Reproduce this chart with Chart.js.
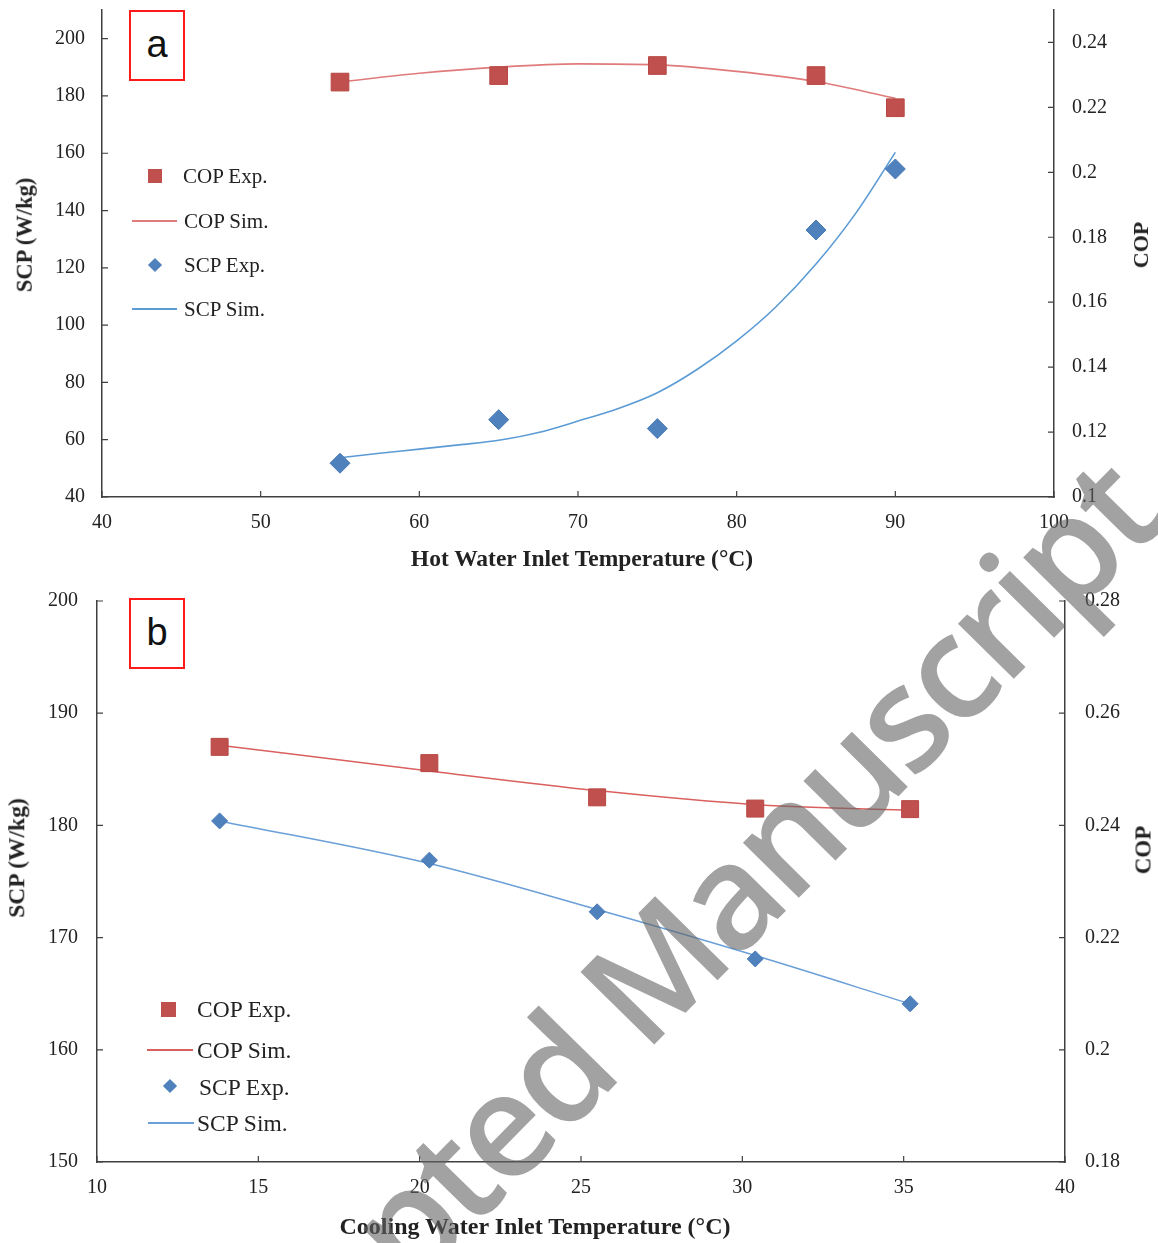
<!DOCTYPE html>
<html>
<head>
<meta charset="utf-8">
<title>SCP and COP versus inlet temperature</title>
<script src="https://cdn.jsdelivr.net/npm/chart.js@4.4.0/dist/chart.umd.min.js"></script>
<style>
  body { margin: 0; width: 1158px; height: 1243px; overflow: hidden; background: #fff; position: relative; font-family: "Liberation Serif", serif; color: #222; }
  canvas { position: absolute; left: 0; }
  #chartA { top: 0; }
  #chartB { top: 575px; }
  .tag { position: absolute; width: 52px; height: 67px; border: 2px solid #ff1a1a; font-family: "Liberation Sans", sans-serif; font-size: 38px; line-height: 64px; text-align: center; color: #111; background: #fff; }
  .leg { position: absolute; white-space: nowrap; line-height: 1; }
  .sq { position: absolute; background: #C0504D; }
  .dm { position: absolute; background: #4F81BD; transform: rotate(45deg); }
  .ln { position: absolute; height: 1.5px; }
  .title { position: absolute; font-weight: bold; white-space: nowrap; line-height: 1; }
  .vert { transform: translate(-50%, -50%) rotate(-90deg); }
  #wm { position: absolute; left: 198px; top: 1380px; font-family: "Open Sans", sans-serif; font-weight: 600; font-size: 145px; line-height: 1; letter-spacing: -5px; white-space: nowrap; color: rgba(100,100,100,0.6); transform-origin: 0 129px; transform: rotate(-45.5deg); pointer-events: none; }
</style>
</head>
<body>
<canvas id="chartA" width="1158" height="575"></canvas>
<canvas id="chartB" width="1158" height="668"></canvas>

<div class="tag" style="left:129px; top:10px;">a</div>
<div class="tag" style="left:129px; top:598px;">b</div>

<!-- legend a -->
<div class="sq" style="left:148px; top:169px; width:14px; height:14px;"></div>
<div class="leg" style="left:183px; top:166px; font-size:21px;">COP Exp.</div>
<div class="ln" style="left:132px; top:220px; width:45px; background:#E07B7B;"></div>
<div class="leg" style="left:184px; top:211px; font-size:21px;">COP Sim.</div>
<div class="dm" style="left:150px; top:260px; width:10px; height:10px;"></div>
<div class="leg" style="left:184px; top:255px; font-size:21px;">SCP Exp.</div>
<div class="ln" style="left:132px; top:308px; width:45px; background:#5B9BD5;"></div>
<div class="leg" style="left:184px; top:299px; font-size:21px;">SCP Sim.</div>

<!-- legend b -->
<div class="sq" style="left:161px; top:1002px; width:15px; height:15px;"></div>
<div class="leg" style="left:197px; top:998px; font-size:23.5px;">COP Exp.</div>
<div class="ln" style="left:147px; top:1049px; width:46px; background:#D9605E;"></div>
<div class="leg" style="left:197px; top:1039px; font-size:23.5px;">COP Sim.</div>
<div class="dm" style="left:165px; top:1081px; width:10px; height:10px;"></div>
<div class="leg" style="left:199px; top:1076px; font-size:23.5px;">SCP Exp.</div>
<div class="ln" style="left:148px; top:1122px; width:46px; background:#6A9FD8;"></div>
<div class="leg" style="left:197px; top:1112px; font-size:23.5px;">SCP Sim.</div>

<!-- axis titles -->
<div class="title vert" style="left:25px; top:235px; font-size:22.5px;">SCP (W/kg)</div>
<div class="title vert" style="left:1141px; top:245px; font-size:22px;">COP</div>
<div class="title" style="left:582px; top:559px; font-size:23.5px; transform:translate(-50%,-50%);">Hot Water Inlet Temperature (°C)</div>
<div class="title vert" style="left:17px; top:858px; font-size:23.5px;">SCP (W/kg)</div>
<div class="title vert" style="left:1143px; top:850px; font-size:23px;">COP</div>
<div class="title" style="left:535px; top:1226px; font-size:24px; transform:translate(-50%,-50%);">Cooling Water Inlet Temperature (°C)</div>

<div id="wm">Accepted Manuscript</div>

<script>
// (a) hot water inlet temperature
const hotTemp = [55, 65, 75, 85, 90];
const hotScpExp = [51.8, 67.0, 63.9, 133.2, 154.5];
const hotCopExp = [0.2278, 0.2298, 0.2329, 0.2298, 0.2199];
const hotScpSimTemp = [55, 57.5, 60, 62.5, 65, 67.5, 70, 72.5, 75, 77.5, 80, 82.5, 85, 87.5, 90];
const hotScpSim = [53.7, 55.3, 56.7, 58.2, 59.8, 62.5, 66.5, 70.8, 76.4, 84.5, 94.5, 106.5, 121.3, 139, 160.3];
const hotCopSimTemp = [55, 60, 65, 70, 75, 80, 85, 90];
const hotCopSim = [0.2278, 0.2305, 0.2324, 0.2334, 0.2331, 0.2311, 0.2280, 0.2228];

// (b) cooling water inlet temperature
const coolTemp = [13.8, 20.3, 25.5, 30.4, 35.2];
const coolScpExp = [180.4, 176.9, 172.3, 168.1, 164.1];
const coolCopExp = [0.2540, 0.2511, 0.2450, 0.2430, 0.2429];
const coolScpSim = [180.4, 176.6, 172.5, 168.4, 164.1];
const coolCopSim = [0.2543, 0.2497, 0.2462, 0.2437, 0.2427];

const pts = (xs, ys) => xs.map((x, i) => ({x: x, y: ys[i]}));
const tickFont = {family: 'Liberation Serif', size: 20, lineHeight: 1};
const axisLine = {color: '#404040', width: 1.5};

// short tick marks pointing into the plot
const innerTicks = {
  id: 'innerTicks',
  afterDatasetsDraw(chart) {
    const {ctx, chartArea: a, scales} = chart;
    ctx.save();
    ctx.strokeStyle = '#404040';
    ctx.lineWidth = 1.2;
    ctx.beginPath();
    scales.x.ticks.forEach(t => {
      const p = scales.x.getPixelForValue(t.value);
      ctx.moveTo(p, a.bottom); ctx.lineTo(p, a.bottom - 6);
    });
    scales.y.ticks.forEach(t => {
      const p = scales.y.getPixelForValue(t.value);
      ctx.moveTo(a.left, p); ctx.lineTo(a.left + 6, p);
    });
    scales.y1.ticks.forEach(t => {
      const p = scales.y1.getPixelForValue(t.value);
      ctx.moveTo(a.right, p); ctx.lineTo(a.right - 6, p);
    });
    ctx.stroke();
    ctx.restore();
  }
};

function makeChart(id, sets, sx, sy, sy1, size) {
  // pin axis sizes so the plot area lands where the figure has it
  const fitV = w => s => { s.width = w; s.paddingTop = 0; s.paddingBottom = 0; };
  return new Chart(document.getElementById(id), {
    type: 'scatter',
    data: {datasets: sets},
    options: {
      responsive: false,
      animation: false,
      layout: {autoPadding: false, padding: {top: size.top}},
      plugins: {legend: {display: false}, tooltip: {enabled: false}},
      scales: {
        x: {
          type: 'linear', min: sx.min, max: sx.max,
          grid: {display: false}, border: axisLine,
          ticks: {stepSize: sx.step, font: tickFont, color: '#222', padding: size.xPad, maxRotation: 0},
          afterFit: s => { s.height = size.xh; }
        },
        y: {
          position: 'left', min: sy.min, max: sy.max,
          grid: {display: false}, border: axisLine,
          ticks: {stepSize: sy.step, includeBounds: false, font: tickFont, color: '#222', padding: size.yPad},
          afterFit: fitV(size.yw)
        },
        y1: {
          position: 'right', min: sy1.min, max: sy1.max,
          grid: {display: false}, border: axisLine,
          ticks: {stepSize: sy1.step, includeBounds: false, font: tickFont, color: '#222', padding: size.y1Pad,
            callback: v => String(+v.toFixed(2))},
          afterFit: fitV(size.y1w)
        }
      }
    },
    plugins: [innerTicks]
  });
}

makeChart('chartA', [
  {label: 'COP Exp.', data: pts(hotTemp, hotCopExp), yAxisID: 'y1', pointStyle: 'rect', pointRadius: 12.5,
   backgroundColor: '#C0504D', borderColor: '#B84744', borderWidth: 1},
  {label: 'SCP Exp.', data: pts(hotTemp, hotScpExp), yAxisID: 'y', pointStyle: 'rectRot', pointRadius: 10,
   backgroundColor: '#4F81BD', borderColor: '#4A7AB5', borderWidth: 1},
  {label: 'COP Sim.', data: pts(hotCopSimTemp, hotCopSim), yAxisID: 'y1', showLine: true, pointRadius: 0,
   borderColor: '#E07B7B', borderWidth: 1.6, cubicInterpolationMode: 'monotone'},
  {label: 'SCP Sim.', data: pts(hotScpSimTemp, hotScpSim), yAxisID: 'y', showLine: true, pointRadius: 0,
   borderColor: '#5B9BD5', borderWidth: 1.6, cubicInterpolationMode: 'monotone'}
], {min: 40, max: 100, step: 10}, {min: 40, max: 210, step: 20}, {min: 0.1, max: 0.25, step: 0.02},
{top: 10, xh: 78, yw: 102, y1w: 104, xPad: 8, yPad: 9, y1Pad: 10});

makeChart('chartB', [
  {label: 'COP Exp.', data: pts(coolTemp, coolCopExp), yAxisID: 'y1', pointStyle: 'rect', pointRadius: 12,
   backgroundColor: '#C0504D', borderColor: '#B84744', borderWidth: 1},
  {label: 'SCP Exp.', data: pts(coolTemp, coolScpExp), yAxisID: 'y', pointStyle: 'rectRot', pointRadius: 8,
   backgroundColor: '#4F81BD', borderColor: '#4A7AB5', borderWidth: 1},
  {label: 'COP Sim.', data: pts(coolTemp, coolCopSim), yAxisID: 'y1', showLine: true, pointRadius: 0,
   borderColor: '#D9605E', borderWidth: 1.5, cubicInterpolationMode: 'monotone'},
  {label: 'SCP Sim.', data: pts(coolTemp, coolScpSim), yAxisID: 'y', showLine: true, pointRadius: 0,
   borderColor: '#6A9FD8', borderWidth: 1.5, cubicInterpolationMode: 'monotone'}
], {min: 10, max: 40, step: 5}, {min: 150, max: 200, step: 10}, {min: 0.18, max: 0.28, step: 0.02},
{top: 26, xh: 81, yw: 97, y1w: 93, xPad: 8, yPad: 11, y1Pad: 12});
</script>
</body>
</html>
